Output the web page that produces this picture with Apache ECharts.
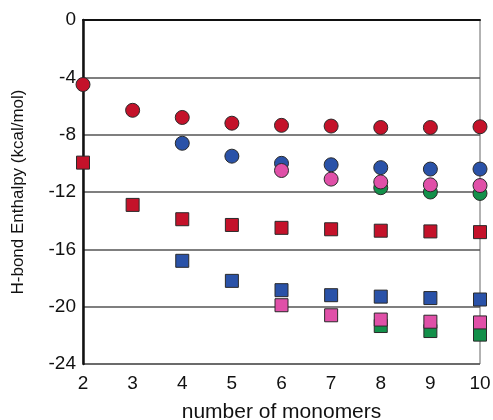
<!DOCTYPE html>
<html><head><meta charset="utf-8">
<script src="https://cdn.jsdelivr.net/npm/echarts@6/dist/echarts.min.js"></script>
<style>html,body{margin:0;padding:0;background:#fff}#c{width:493px;height:420px}</style>
</head><body><div id="c"></div>
<script>
const monomers = [2,3,4,5,6,7,8,9,10];
const redCircle  = [-4.5,-6.3,-6.8,-7.2,-7.35,-7.4,-7.5,-7.5,-7.45];
const blueCircle = [null,null,-8.6,-9.5,-10.0,-10.1,-10.3,-10.4,-10.4];
const greenCircle= [null,null,null,null,null,null,-11.7,-12.0,-12.1];
const pinkCircle = [null,null,null,null,-10.5,-11.1,-11.3,-11.5,-11.55];
const redSquare  = [-9.95,-12.9,-13.9,-14.3,-14.5,-14.6,-14.7,-14.75,-14.8];
const blueSquare = [null,null,-16.8,-18.2,-18.85,-19.2,-19.3,-19.4,-19.5];
const greenSquare= [null,null,null,null,null,null,-21.35,-21.7,-21.95];
const pinkSquare = [null,null,null,null,-19.9,-20.6,-20.9,-21.05,-21.1];
const yTicks = [0,-4,-8,-12,-16,-20,-24];

const colors = {red:'#c4122a', blue:'#2a52a8', green:'#13904a', pink:'#e050a8'};
function pts(arr){ return monomers.map((m,i)=>[m,arr[i]]).filter(p=>p[1]!==null); }
function ser(name, arr, color, symbol, size){
  return {name, type:'scatter', data:pts(arr), symbol, symbolSize:size, clip:false,
    itemStyle:{color, opacity:1, borderColor:'#2a2a2a', borderWidth:1},
    emphasis:{disabled:true}};
}
const chart = echarts.init(document.getElementById('c'), null, {renderer:'canvas'});
chart.setOption({
  animation:false,
  grid:{left:83,right:13,top:20,bottom:56,show:true,borderColor:'#666',borderWidth:1,
    containLabel:false,outerBoundsMode:'none'},
  xAxis:{type:'value',min:2,max:10,interval:1,
    name:'number of monomers',nameLocation:'middle',nameGap:38,
    nameTextStyle:{fontSize:21,color:'#111',fontFamily:'Liberation Sans'},
    axisLine:{lineStyle:{color:'#111',width:2}},axisTick:{show:false},
    axisLabel:{fontSize:19,color:'#111',margin:10,fontFamily:'Liberation Sans'},
    splitLine:{show:false}},
  yAxis:{type:'value',min:-24,max:0,interval:4,
    name:'H-bond Enthalpy (kcal/mol)',nameLocation:'middle',nameGap:56,
    nameTextStyle:{fontSize:17,color:'#111',fontFamily:'Liberation Sans'},
    axisLine:{show:true,lineStyle:{color:'#111',width:2.5}},axisTick:{show:false},
    axisLabel:{fontSize:19,color:'#111',margin:7,fontFamily:'Liberation Sans',
      formatter:v=>yTicks.includes(v)?String(v):''},
    splitLine:{show:true,lineStyle:{color:'#555',width:1.5}}},
  series:[
    ser('red circle',redCircle,colors.red,'circle',14),
    ser('red square',redSquare,colors.red,'rect',13),
    ser('blue circle',blueCircle,colors.blue,'circle',14),
    ser('blue square',blueSquare,colors.blue,'rect',13),
    ser('green circle',greenCircle,colors.green,'circle',14),
    ser('green square',greenSquare,colors.green,'rect',13),
    ser('pink circle',pinkCircle,colors.pink,'circle',14),
    ser('pink square',pinkSquare,colors.pink,'rect',13)
  ]
});
</script></body></html>
